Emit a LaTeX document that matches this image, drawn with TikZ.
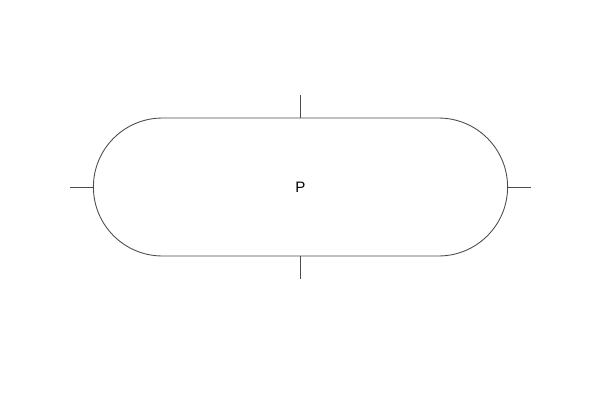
\documentclass[tikz,border=0pt]{standalone}
\usepackage{fontspec}
\setmainfont{Liberation Sans}
\usetikzlibrary{shapes.misc}
\begin{document}
\begin{tikzpicture}[x=0.02cm,y=-0.02cm]
        \useasboundingbox (0,0) rectangle (600,400);

        \begin{scope}[every node/.style={rounded rectangle,draw=black!70,line width=.5pt,outer sep=0pt,
            minimum width=8.52cm,minimum height=2.76cm,font=\fontsize{8.6}{10}\selectfont}]
          \node (p) at (300.5,187) {P};
        \end{scope}

        \coordinate (t) at (300.5,95);
        \coordinate (b) at (300.5,279);
        \coordinate (l) at (70,187);
        \coordinate (r) at (531,187);

        \begin{scope}[every path/.style={draw=black!70,line width=.5pt}]
          \path (p.north) -- (t);
          \path (p.south) -- (b);
          \path (p.west)  -- (l);
          \path (p.east)  -- (r);
        \end{scope}

      \end{tikzpicture}
\end{document}
